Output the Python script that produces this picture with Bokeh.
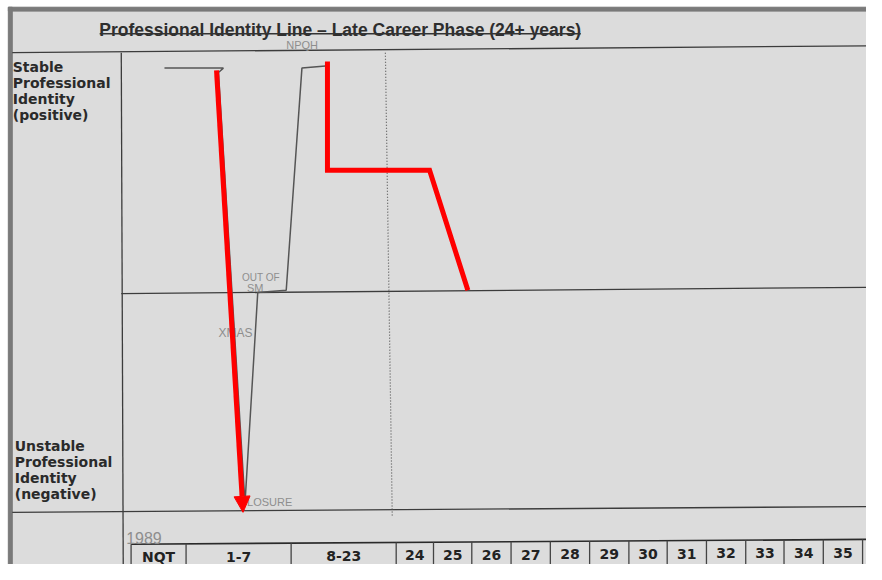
from bokeh.plotting import figure
from bokeh.models import Range1d, Arrow, NormalHead
from bokeh.core.properties import value
from bokeh.embed import file_html
from bokeh.resources import INLINE

# ---------------- data (read from the scanned worksheet) ----------------
title_text = "Professional Identity Line \u2013 Late Career Phase (24+ years)"
stable_label = ["Stable", "Professional", "Identity", "(positive)"]
unstable_label = ["Unstable", "Professional", "Identity", "(negative)"]

period_labels = ["NQT", "1-7", "8-23", "24", "25", "26", "27", "28", "29",
                 "30", "31", "32", "33", "34", "35"]
period_edges = [133, 189, 296, 403, 441, 480, 520, 560, 600, 640, 679,
                719, 759, 798, 838, 878]

# identity level: +1 stable (positive), 0 neutral, -1 unstable (negative)
pencil_x = [167, 227, 222, 249, 262, 291, 307, 331]
pencil_level = [1.00, 1.00, 0.98, -0.96, -0.01, 0.00, 1.00, 1.01]

drop_x = [220, 247]
drop_level = [0.99, -1.00]

red_x = [333, 333, 437, 476]
red_level = [1.03, 0.54, 0.54, 0.00]

notes = ["NPQH", "OUT OF", "SM", "XMAS", "CLOSURE", "1989"]
note_x = [291, 246, 251, 222, 243, 128]
note_level = [1.104, 0.057, 0.009, -0.191, -0.952, -1.115]
note_size = ["11px", "10px", "11px", "12px", "11px", "16px"]


# sheet row (pixel row of the scan) -> identity level
def lv(row):
    return (300 - row) / 230


p = figure(width=866, height=564, x_range=Range1d(0, 882),
           y_range=Range1d(lv(584), lv(0)), output_backend="svg",
           toolbar_location=None, min_border=0)
p.axis.visible = False
p.grid.visible = False
p.outline_line_color = None
p.background_fill_color = "#ffffff"
p.border_fill_color = "#ffffff"

# scanned sheet and its border (top & left)
p.quad(left=[8], right=[882], top=[lv(7)], bottom=[lv(584)], color="#dcdcdc")
p.quad(left=[8, 8], right=[882, 12], top=[lv(7), lv(7)],
       bottom=[lv(11), lv(584)], color="#7a7a7a")

# title + underline
p.text(x=[346], y=[lv(31)], text=[title_text], text_font=value("Liberation Sans"),
       text_font_style="bold", text_font_size="17.5px", text_color="#2e2e2e",
       text_align="center", text_baseline="alphabetic")
p.segment(x0=[101], y0=[lv(34.5)], x1=[591], y1=[lv(34.5)],
          line_color="#333333", line_width=1.5)

# grid frame of the worksheet
fx0 = [12, 123, 123, 12]
fy0 = [54, 54, 303.5, 530]
fx1 = [882, 125, 882, 882]
fy1 = [47, 584, 297, 524]
p.segment(x0=fx0, y0=[lv(v) for v in fy0], x1=fx1, y1=[lv(v) for v in fy1],
          line_color="#3c3c3c", line_width=1.3)
p.segment(x0=[392], y0=[lv(54)], x1=[399], y1=[lv(535)],
          line_color="#555555", line_width=1.2, line_dash="1 2")

# side labels
p.text(x=[12.5] * 4, y=[lv(r) for r in (69, 85.7, 102.3, 119)], text=stable_label,
       text_font=value("DejaVu Sans"), text_font_style="bold",
       text_font_size="14px", text_color="#2a2a2a", text_baseline="alphabetic")
p.text(x=[14.5] * 4, y=[lv(r) for r in (461, 477.6, 494.2, 510.8)], text=unstable_label,
       text_font=value("DejaVu Sans"), text_font_style="bold",
       text_font_size="14px", text_color="#2a2a2a", text_baseline="alphabetic")


# period table at the bottom
def top_row(x):
    return 563 - (x - 133) * 5 / 749


p.segment(x0=[133], y0=[lv(top_row(133))], x1=[882], y1=[lv(top_row(882))],
          line_color="#2a2a2a", line_width=1.6)
p.segment(x0=period_edges, y0=[lv(top_row(e)) for e in period_edges],
          x1=period_edges, y1=[lv(586)] * len(period_edges),
          line_color="#444444", line_width=1.3)
cx = [(a + b) / 2 for a, b in zip(period_edges[:-1], period_edges[1:])]
p.text(x=cx, y=[lv(top_row(c) + 13.5) for c in cx], text=period_labels,
       text_font=value("DejaVu Sans"), text_font_style="bold",
       text_font_size="14px", text_color="#222222", text_align="center",
       text_baseline="alphabetic")

# handwritten pencil notes
for t, x, y, s in zip(notes, note_x, note_level, note_size):
    p.text(x=[x], y=[y], text=[t], text_font=value("Liberation Sans"),
           text_font_size=s, text_color="#8e8e8e", text_baseline="alphabetic")

# pencil identity line
p.line(pencil_x, pencil_level, line_color="#555555", line_width=1.5)

# red overlay lines
p.add_layout(Arrow(end=NormalHead(size=16, fill_color="#ff0000", line_color="#ff0000"),
                   x_start=drop_x[0], y_start=drop_level[0],
                   x_end=drop_x[1], y_end=drop_level[1],
                   line_color="#ff0000", line_width=5))
p.line(red_x, red_level, line_color="#ff0000", line_width=5, line_join="miter")

open("out.html", "w").write(file_html(p, INLINE))
